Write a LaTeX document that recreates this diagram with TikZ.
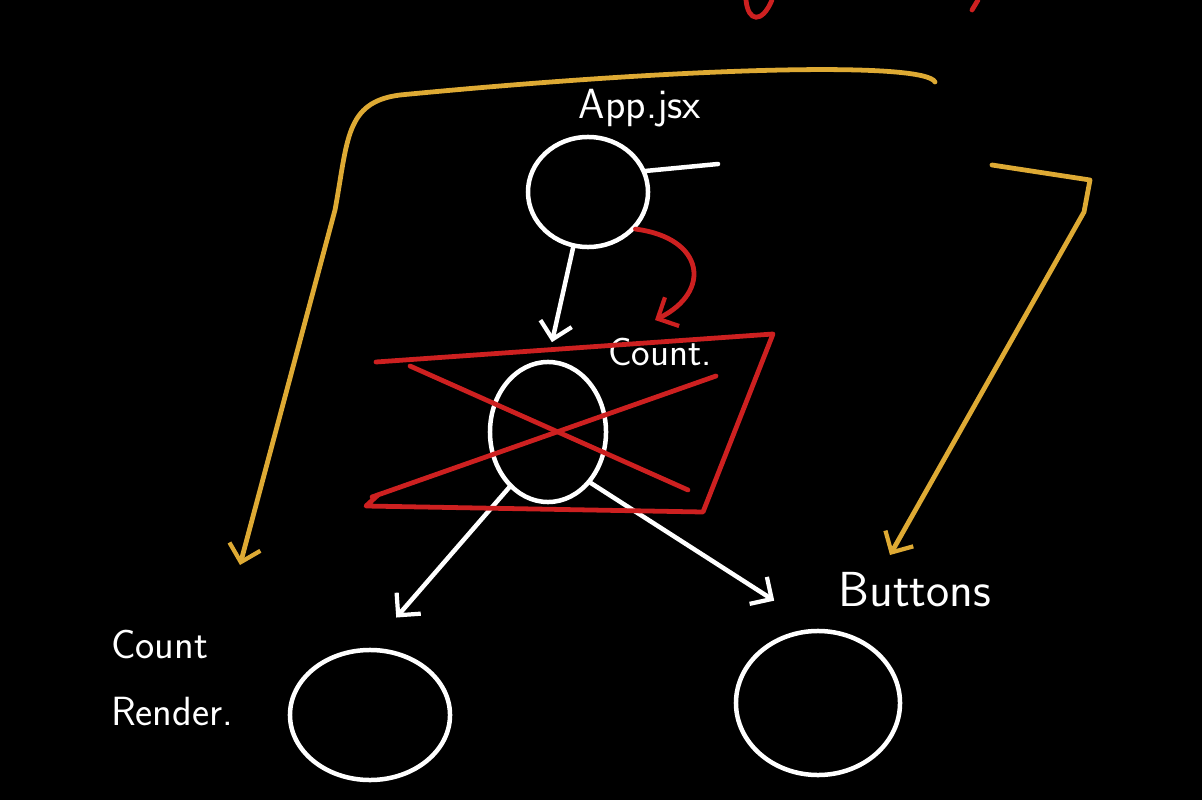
\documentclass[tikz,border=0pt]{standalone}
\usepackage{tikz}
\usetikzlibrary{shapes.geometric,arrows.meta}
\definecolor{penyellow}{RGB}{222,170,52}
\definecolor{penred}{RGB}{205,32,32}
\tikzset{
  blob/.style={ellipse, draw=white, line width=3.2pt, inner sep=0pt},
  wline/.style={draw=white, line width=3.2pt, line cap=round, line join=round},
  yline/.style={draw=penyellow, line width=3.4pt, line cap=round, line join=round},
  rline/.style={draw=penred, line width=3.4pt, line cap=round, line join=round},
  barb/.style={-{Straight Barb[length=4mm,width=8mm,line width=3pt]}},
  lbl/.style={text=white, font=\sffamily\fontsize{30}{34}\selectfont, inner sep=0pt}
}
\begin{document}
\begin{tikzpicture}[x=0.025cm, y=-0.025cm]
% Background
\fill[black] (0,0) rectangle (1202,800);
\useasboundingbox (0,0) rectangle (1202,800);
% Nodes
\foreach \n/\x/\y/\w/\h in {app/588/192/3/2.75, count/548/432/2.9/3.5, render/370/715/4/3.25, buttons/818/703/4.1/3.6} {
  \node[blob, minimum width=\w cm, minimum height=\h cm] (\n) at (\x,\y) {};
}
% Labels
\node[lbl] (applbl) at (640,108) {App.jsx};
\node[lbl, font=\sffamily\fontsize{28}{32}\selectfont] (countlbl) at (660,352) {Count.};
\node[lbl, align=left, font=\sffamily\fontsize{29}{48}\selectfont] (renderlbl) at (172,678) {Count\\Render.};
\node[lbl, font=\sffamily\fontsize{35}{40}\selectfont] (buttonslbl) at (915,590) {Buttons};
% Edges
\coordinate (stub) at (718,164);
\draw[wline] (app.20) -- (stub);
\draw[wline, barb, shorten >=0.45cm] (app.-105) -- (count.north);
\draw[wline, barb, shorten >=1cm] (count.-125) -- (render.north);
\draw[wline, barb, shorten >=1.3cm] (count.-50) -- (buttons.north);
% Crossed out
\draw[rline] (376,362) -- (773,334) -- (703,512) -- (366,506) -- (378,495);
\draw[rline] (410,366) -- (688,490);
\draw[rline] (372,497) -- (716,376);
\coordinate (redtip) at (655,320);
\draw[rline, barb] (app.-38) .. controls (705,238) and (712,292) .. (redtip);
% Yellow arrows
\coordinate (ltip) at (240,565);
\coordinate (rtip) at (890,555);
\coordinate (ystart) at (935,82);
\coordinate (ystart2) at (992,165);
\draw[yline, barb] (ystart) .. controls (925,62) and (700,66) .. (400,95)
  .. controls (345,102) and (348,140) .. (335,210) -- (ltip);
\draw[yline, barb] (ystart2) -- (1090,180) -- (1084,212) -- (rtip);
% Top red strokes
\draw[rline] (746,0) .. controls (748,22) and (762,24) .. (772,0);
\draw[rline] (978,0) -- (972,10);
\end{tikzpicture}
\end{document}
